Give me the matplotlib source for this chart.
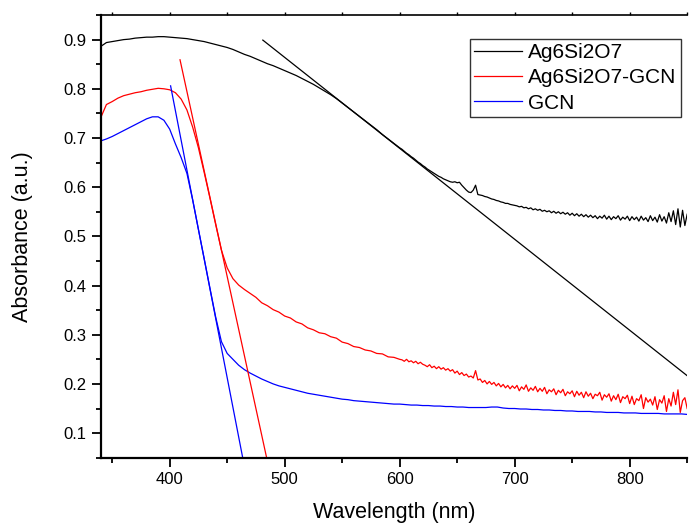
import numpy as np
import matplotlib
matplotlib.use("Agg")
import matplotlib.pyplot as plt
from matplotlib.ticker import MultipleLocator

plt.rcParams["font.family"] = ["Liberation Sans", "DejaVu Sans"]

# ---- UV-Vis absorbance spectra ----
# coarse part (5 nm step) and fine part (2 nm step) of the measured spectra
wl_coarse = np.arange(340, 601, 5)
wl_fine = np.arange(602, 851, 2)
wl_gcn = np.arange(340, 851, 5)

ag_coarse = [0.886, 0.894, 0.896, 0.898, 0.900, 0.901, 0.903, 0.904, 0.905, 0.905,
             0.906, 0.906, 0.905, 0.904, 0.903, 0.902, 0.900, 0.898, 0.896, 0.893,
             0.890, 0.887, 0.884, 0.880, 0.875, 0.870, 0.866, 0.861, 0.856, 0.851,
             0.847, 0.842, 0.837, 0.832, 0.827, 0.821, 0.815, 0.809, 0.802, 0.795,
             0.788, 0.780, 0.771, 0.762, 0.753, 0.744, 0.735, 0.726, 0.717, 0.707,
             0.698, 0.689, 0.680]
ag_fine = [0.677, 0.673, 0.669, 0.666, 0.662, 0.659, 0.655, 0.651, 0.648, 0.644,
           0.641, 0.637, 0.634, 0.631, 0.628, 0.625, 0.622, 0.620, 0.617, 0.615,
           0.613, 0.611, 0.610, 0.611, 0.609, 0.610, 0.604, 0.599, 0.594, 0.590,
           0.589, 0.594, 0.604, 0.585, 0.584, 0.583, 0.581, 0.580, 0.578, 0.576,
           0.575, 0.573, 0.572, 0.570, 0.569, 0.567, 0.567, 0.565, 0.564, 0.563,
           0.562, 0.560, 0.561, 0.558, 0.559, 0.556, 0.558, 0.554, 0.556, 0.553,
           0.555, 0.551, 0.553, 0.550, 0.552, 0.548, 0.551, 0.547, 0.550, 0.546,
           0.549, 0.545, 0.548, 0.543, 0.547, 0.542, 0.546, 0.541, 0.545, 0.540,
           0.544, 0.539, 0.543, 0.538, 0.542, 0.536, 0.541, 0.537, 0.543, 0.535,
           0.541, 0.534, 0.540, 0.536, 0.542, 0.533, 0.539, 0.535, 0.541, 0.532,
           0.540, 0.534, 0.539, 0.531, 0.541, 0.533, 0.538, 0.530, 0.542, 0.532,
           0.539, 0.529, 0.544, 0.531, 0.540, 0.527, 0.548, 0.530, 0.552, 0.524,
           0.556, 0.519, 0.553, 0.522, 0.545]

comp_coarse = [0.741, 0.768, 0.774, 0.781, 0.786, 0.789, 0.792, 0.794, 0.797, 0.799,
               0.801, 0.800, 0.798, 0.792, 0.779, 0.757, 0.722, 0.680, 0.630, 0.578,
               0.524, 0.472, 0.436, 0.414, 0.401, 0.392, 0.384, 0.376, 0.365, 0.359,
               0.351, 0.346, 0.338, 0.334, 0.326, 0.322, 0.314, 0.310, 0.304, 0.302,
               0.296, 0.293, 0.285, 0.282, 0.276, 0.274, 0.269, 0.267, 0.262, 0.261,
               0.255, 0.254, 0.250]
comp_fine = [0.249, 0.246, 0.250, 0.245, 0.247, 0.243, 0.246, 0.241, 0.244, 0.240,
             0.238, 0.235, 0.239, 0.233, 0.236, 0.231, 0.235, 0.230, 0.233, 0.228,
             0.231, 0.226, 0.229, 0.222, 0.226, 0.219, 0.223, 0.217, 0.220, 0.214,
             0.216, 0.212, 0.227, 0.208, 0.210, 0.203, 0.207, 0.200, 0.205, 0.199,
             0.203, 0.196, 0.201, 0.194, 0.199, 0.192, 0.197, 0.190, 0.196, 0.191,
             0.197, 0.186, 0.194, 0.189, 0.198, 0.185, 0.192, 0.187, 0.195, 0.184,
             0.191, 0.185, 0.193, 0.180, 0.188, 0.184, 0.190, 0.178, 0.187, 0.182,
             0.189, 0.176, 0.184, 0.180, 0.186, 0.174, 0.185, 0.177, 0.183, 0.172,
             0.184, 0.175, 0.181, 0.170, 0.179, 0.176, 0.183, 0.167, 0.178, 0.173,
             0.180, 0.165, 0.176, 0.168, 0.179, 0.162, 0.174, 0.170, 0.177, 0.160,
             0.175, 0.158, 0.170, 0.166, 0.178, 0.150, 0.172, 0.163, 0.169, 0.157,
             0.174, 0.148, 0.168, 0.161, 0.176, 0.144, 0.170, 0.155, 0.183, 0.158,
             0.188, 0.142, 0.166, 0.172, 0.150]

gcn = [0.694, 0.698, 0.703, 0.709, 0.715, 0.721, 0.727, 0.733, 0.739, 0.743,
       0.743, 0.736, 0.718, 0.688, 0.660, 0.628, 0.574, 0.514, 0.455, 0.395,
       0.336, 0.286, 0.262, 0.250, 0.238, 0.229, 0.222, 0.216, 0.210, 0.205,
       0.200, 0.196, 0.193, 0.190, 0.187, 0.184, 0.181, 0.179, 0.177, 0.175,
       0.173, 0.171, 0.169, 0.168, 0.166, 0.165, 0.164, 0.163, 0.162, 0.161,
       0.160, 0.159, 0.159, 0.158, 0.157, 0.157, 0.156, 0.156, 0.155, 0.155,
       0.154, 0.154, 0.153, 0.153, 0.152, 0.152, 0.152, 0.152, 0.153, 0.153,
       0.151, 0.150, 0.150, 0.149, 0.149, 0.148, 0.148, 0.147, 0.147, 0.146,
       0.146, 0.145, 0.145, 0.144, 0.144, 0.144, 0.143, 0.143, 0.142, 0.142,
       0.142, 0.141, 0.141, 0.141, 0.140, 0.140, 0.140, 0.140, 0.139, 0.139,
       0.139, 0.139, 0.138]

# band-edge tangent lines: (wavelength, absorbance) end points
tan_ag_wl, tan_ag_abs = [481, 852], [0.899, 0.213]
tan_comp_wl, tan_comp_abs = [409, 484.3], [0.859, 0.05]
tan_gcn_wl, tan_gcn_abs = [400.8, 463.5], [0.806, 0.05]

labels = ["Ag6Si2O7", "Ag6Si2O7-GCN", "GCN"]
colors = ["#000000", "#ff0000", "#0000ff"]

fig = plt.figure(figsize=(6.9, 5.25), dpi=100)
ax = fig.add_axes([0.1459, 0.1282, 0.85, 0.8432])

wl_ag = np.concatenate([wl_coarse, wl_fine])
ax.plot(wl_ag, ag_coarse + ag_fine, color=colors[0], lw=0.9, label=labels[0])
ax.plot(wl_ag, comp_coarse + comp_fine, color=colors[1], lw=0.9, label=labels[1])
ax.plot(wl_gcn, gcn, color=colors[2], lw=0.9, label=labels[2])

ax.plot(tan_ag_wl, tan_ag_abs, color=colors[0], lw=0.9)
ax.plot(tan_comp_wl, tan_comp_abs, color=colors[1], lw=0.9)
ax.plot(tan_gcn_wl, tan_gcn_abs, color=colors[2], lw=0.9)

ax.set_xlim(340, 850)
ax.set_ylim(0.05, 0.95)
ax.xaxis.set_major_locator(MultipleLocator(100))
ax.xaxis.set_minor_locator(MultipleLocator(50))
ax.yaxis.set_major_locator(MultipleLocator(0.1))
ax.yaxis.set_minor_locator(MultipleLocator(0.05))

for side in ("left", "bottom"):
    ax.spines[side].set_linewidth(1.6)
ax.spines["right"].set_visible(False)
ax.spines["top"].set_visible(False)

ax.tick_params(which="major", direction="out", length=6.5, width=1.3,
               labelsize=12, pad=4, top=False, right=False)
ax.tick_params(which="minor", direction="out", length=3.5, width=1.3,
               top=False, right=False)

top = ax.secondary_xaxis("top")
top.xaxis.set_major_locator(MultipleLocator(100))
top.xaxis.set_minor_locator(MultipleLocator(50))
top.tick_params(which="both", direction="out", length=2, width=1.0, labeltop=False)
top.spines["top"].set_linewidth(1.2)

ax.set_xlabel("Wavelength (nm)", fontsize=15.5)
ax.set_ylabel("Absorbance (a.u.)", fontsize=15.5)
ax.xaxis.set_label_coords(0.5, -0.1)
ax.yaxis.set_label_coords(-0.1154, 0.5)

leg = ax.legend(loc="upper right", bbox_to_anchor=(680.7 / 690, 1 - 39 / 525),
                bbox_transform=fig.transFigure, fontsize=15, frameon=True,
                fancybox=False, borderaxespad=0, borderpad=0.2,
                handlelength=2.3, handletextpad=0.3, labelspacing=0.3)
leg.get_frame().set_edgecolor("black")
leg.get_frame().set_linewidth(1.0)

fig.savefig("out.png", dpi=100)
